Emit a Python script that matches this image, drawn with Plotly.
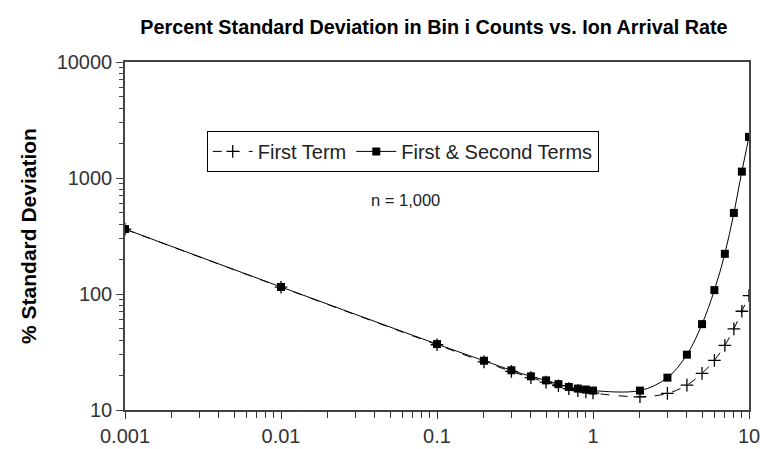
import plotly.graph_objects as go

rate = [0.001, 0.01, 0.1, 0.2, 0.3, 0.4, 0.5, 0.6, 0.7, 0.8, 0.9, 1, 2, 3, 4, 5, 6, 7, 8, 9, 10]
first_term = [362, 114.5, 36.5, 26, 21.5, 19, 17.4, 16.2, 15.3, 14.7, 14.3, 14.0, 13.0, 13.9, 16.4, 20.7, 26.8, 36, 50, 71, 97]
first_second = [363, 115, 37, 26.6, 22, 19.5, 18, 16.7, 15.8, 15.3, 15.0, 14.7, 14.7, 19, 30, 55, 108, 222, 500, 1135, 2260]

x_ticks = [0.001, 0.01, 0.1, 1, 10]
x_labels = ["0.001", "0.01", "0.1", "1", "10"]
y_ticks = [10, 100, 1000, 10000]
y_labels = ["10", "100", "1000", "10000"]

# minor tick positions: 2..9 within each decade
x_minor = [m * 10.0 ** e for e in range(-3, 1) for m in range(2, 10)]
y_minor = [m * 10.0 ** e for e in range(1, 4) for m in range(2, 10)]

FONT = "Liberation Sans, Arial, sans-serif"

fig = go.Figure()
fig.add_trace(go.Scatter(
    x=rate, y=first_term, name="First Term", mode="lines+markers",
    line=dict(color="black", width=1, dash="dash", shape="spline"),
    marker=dict(symbol="cross-thin", size=9, color="black", line=dict(color="black", width=1.3)),
))
fig.add_trace(go.Scatter(
    x=rate, y=first_second, name="First & Second Terms", mode="lines+markers",
    line=dict(color="black", width=1, shape="spline"),
    marker=dict(symbol="square", size=8, color="black"),
))

fig.update_layout(
    width=760, height=449,
    margin=dict(l=125, r=11, t=62, b=39),
    paper_bgcolor="white", plot_bgcolor="white",
    font=dict(family=FONT, color="#222"),
    title=dict(text="<b>Percent Standard Deviation in Bin i Counts vs. Ion Arrival Rate</b>",
               x=0.571, xanchor="center", y=0.94, yanchor="middle",
               font=dict(size=19.8, color="black", family=FONT)),
    legend=dict(orientation="h", x=0.131, y=0.802, xanchor="left", yanchor="top",
                bordercolor="black", borderwidth=1, bgcolor="white",
                font=dict(size=20, color="#222"), itemwidth=40, tracegroupgap=0),
    showlegend=True,
    annotations=[dict(text="n = 1,000", x=0.449, y=0.603, xref="paper", yref="paper",
                      showarrow=False, font=dict(size=16.5, color="#222"))],
)
fig.update_xaxes(type="log", range=[-3, 1], tickmode="array", tickvals=x_ticks, ticktext=x_labels,
                 automargin=False, ticklabeloverflow="allow",
                 showgrid=False, zeroline=False, showline=True, linecolor="#444", linewidth=1.5,
                 mirror=True, ticks="outside", ticklen=7, tickwidth=1.2, tickcolor="#333",
                 tickfont=dict(size=20, color="#333"),
                 minor=dict(ticks="outside", ticklen=6, tickwidth=1.2, tickcolor="#333",
                            tickvals=x_minor, showgrid=False))
fig.update_yaxes(type="log", range=[1, 4], tickvals=y_ticks, ticktext=y_labels,
                 automargin=False, ticklabeloverflow="allow",
                 showgrid=False, zeroline=False, showline=True, linecolor="#444", linewidth=1.5,
                 mirror=True, ticks="outside", ticklen=7, tickcolor="#444",
                 tickfont=dict(size=20, color="#333"),
                 title=dict(text="<b>% Standard Deviation</b>", font=dict(size=21, color="black"), standoff=14),
                 minor=dict(ticks="outside", ticklen=4, tickcolor="#444", tickvals=y_minor, showgrid=False))

fig.write_html("out.html")
